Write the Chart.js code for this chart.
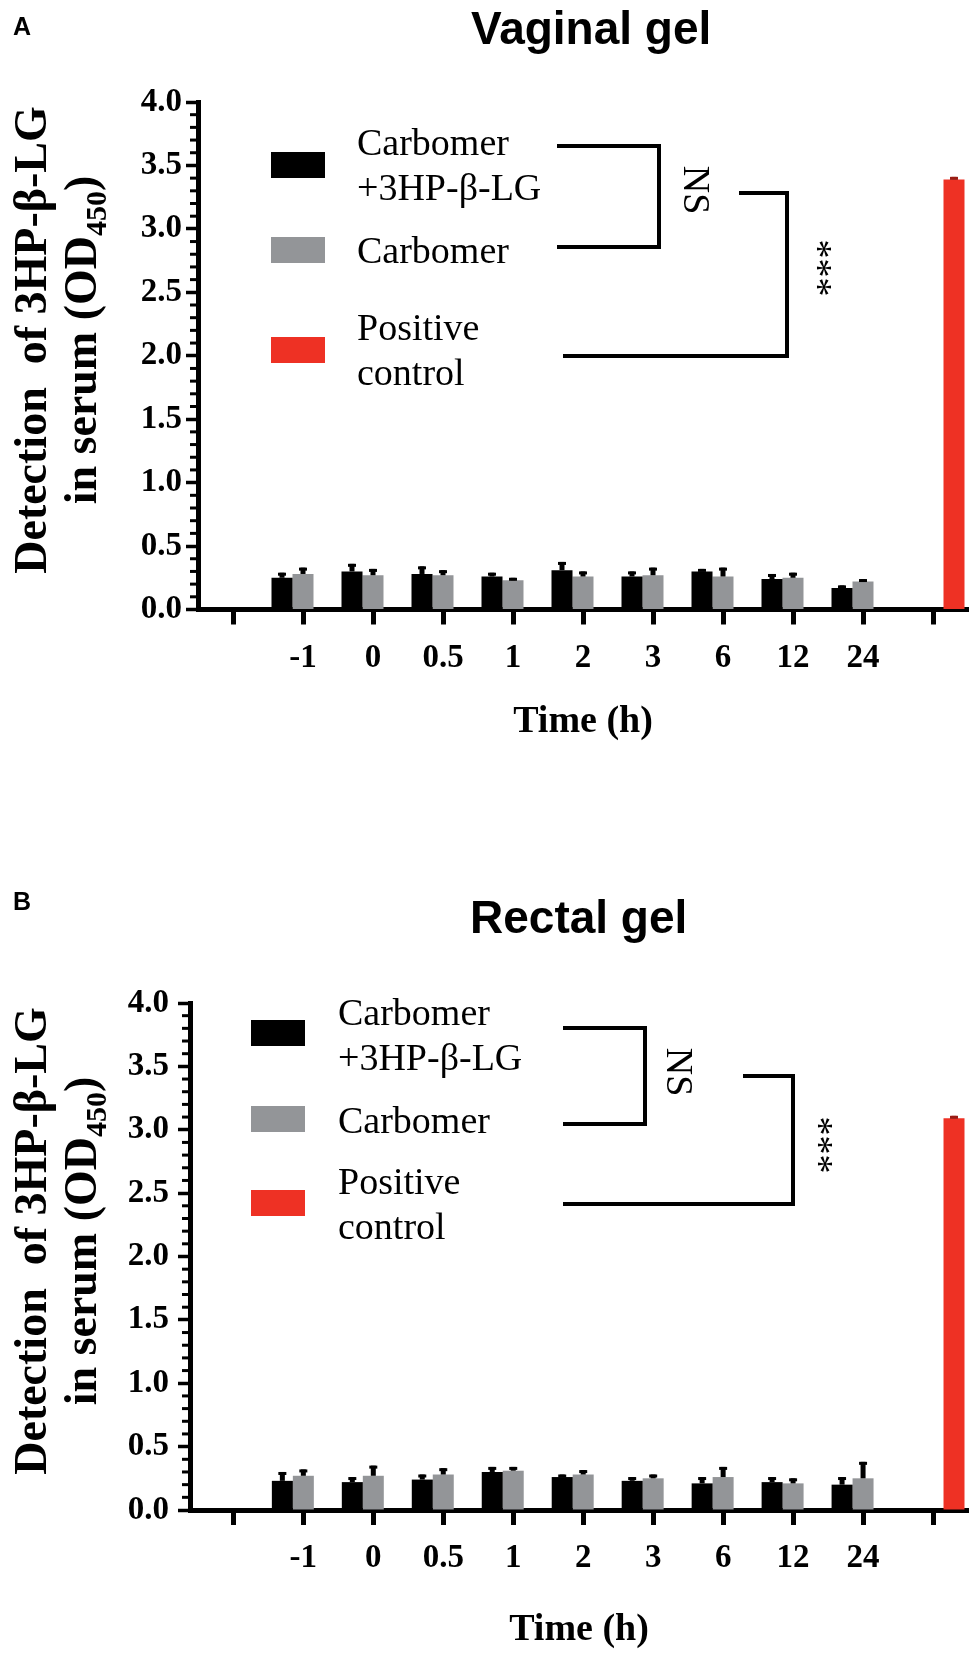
<!DOCTYPE html>
<html>
<head>
<meta charset="utf-8">
<script src="https://cdn.jsdelivr.net/npm/chart.js@4/dist/chart.umd.min.js"></script>
<style>
    body { margin: 0; background: #ffffff; }
    canvas { display: block; }
</style>
</head>
<body>
<canvas id="vaginalChart" width="975" height="870"></canvas>
<canvas id="rectalChart" width="975" height="789"></canvas>
<script>
// ==================== DATA ====================
const timeLabels = ['', '-1', '0', '0.5', '1', '2', '3', '6', '12', '24', ''];
const yTickValues = [0, 0.5, 1.0, 1.5, 2.0, 2.5, 3.0, 3.5, 4.0];
const groupNames = [['Carbomer', '+3HP-β-LG'], ['Carbomer'], ['Positive', 'control']];
const groupColors = ['#000000', '#939598', '#ee3124'];

// Vaginal gel (panel A)
const vaginalDrug       = [null, 0.25, 0.30, 0.28, 0.26, 0.31, 0.26, 0.30, 0.24, 0.17, null];
const vaginalDrugErr    = [null, 0.04, 0.06, 0.06, 0.03, 0.065, 0.04, 0.02, 0.04, 0.02, null];
const vaginalCarbomer   = [null, 0.28, 0.27, 0.27, 0.23, 0.26, 0.27, 0.26, 0.25, 0.22, null];
const vaginalCarbomerErr = [null, 0.05, 0.05, 0.04, 0.02, 0.04, 0.06, 0.07, 0.04, 0.02, null];
const vaginalControl    = [null, null, null, null, null, null, null, null, null, null, 3.39];
const vaginalControlErr = [null, null, null, null, null, null, null, null, null, null, 0.02];

// Rectal gel (panel B)
const rectalDrug        = [null, 0.23, 0.22, 0.24, 0.30, 0.26, 0.23, 0.21, 0.22, 0.20, null];
const rectalDrugErr     = [null, 0.07, 0.04, 0.04, 0.04, 0.02, 0.03, 0.05, 0.04, 0.06, null];
const rectalCarbomer    = [null, 0.27, 0.27, 0.28, 0.31, 0.28, 0.25, 0.26, 0.21, 0.25, null];
const rectalCarbomerErr = [null, 0.05, 0.08, 0.05, 0.03, 0.035, 0.03, 0.08, 0.04, 0.13, null];
const rectalControl     = [null, null, null, null, null, null, null, null, null, null, 3.09];
const rectalControlErr  = [null, null, null, null, null, null, null, null, null, null, 0.02];

const SERIF = '"Liberation Serif", "Times New Roman", serif';
const SANS = '"Liberation Sans", Arial, sans-serif';

// ==================== PLUGINS ====================
const minorTickPlugin = {
    id: 'minorTicks',
    afterDraw(chart) {
        const y = chart.scales.y;
        const ctx = chart.ctx;
        const x0 = chart.chartArea.left;
        ctx.save();
        ctx.strokeStyle = '#000';
        ctx.lineWidth = 3;
        for (let k = 1; k < 40; k++) {
            if (k % 5 === 0) continue;
            const py = y.getPixelForValue(k / 10);
            ctx.beginPath();
            ctx.moveTo(x0 - 8, py);
            ctx.lineTo(x0, py);
            ctx.stroke();
        }
        ctx.restore();
    }
};

const errorBarPlugin = {
    id: 'errorBars',
    afterDatasetsDraw(chart) {
        const ctx = chart.ctx;
        const yScale = chart.scales.y;
        chart.data.datasets.forEach((ds, di) => {
            const meta = chart.getDatasetMeta(di);
            meta.data.forEach((bar, i) => {
                const v = ds.data[i].y;
                const e = ds.errors[i];
                if (v == null || e == null) return;
                const top = yScale.getPixelForValue(v + e);
                ctx.fillStyle = ds.errorColor;
                ctx.fillRect(bar.x - 2.5, top, 5, bar.y - top);
                ctx.fillRect(bar.x - 4, top, 8, 3);
            });
        });
    }
};

// legend, brackets, titles and the y axis title
const annotationPlugin = {
    id: 'annotations',
    afterDraw(chart) {
        const a = chart.options.plugins.annotations;
        const ctx = chart.ctx;
        ctx.save();
        ctx.fillStyle = '#000';

        // panel letter
        ctx.font = 'bold 25px ' + SANS;
        ctx.textAlign = 'left';
        ctx.textBaseline = 'alphabetic';
        ctx.fillText(a.letter, 13, a.letterY);

        // title
        ctx.font = 'bold 46px ' + SANS;
        ctx.fillText(a.title, a.titleX, a.titleY);

        // legend
        a.legend.forEach((item, i) => {
            ctx.fillStyle = groupColors[i];
            ctx.fillRect(a.legendX, item.boxY, 54, 26);
            ctx.fillStyle = '#000';
            ctx.font = '38px ' + SERIF;
            groupNames[i].forEach((line, j) => {
                ctx.fillText(line, a.legendTextX, item.textY + j * 45);
            });
        });

        // significance brackets
        ctx.strokeStyle = '#000';
        ctx.lineWidth = 4;
        ctx.lineJoin = 'miter';
        a.brackets.forEach(pts => {
            ctx.beginPath();
            ctx.moveTo(pts[0][0], pts[0][1]);
            for (let k = 1; k < pts.length; k++) ctx.lineTo(pts[k][0], pts[k][1]);
            ctx.stroke();
        });
        ctx.font = '38px ' + SERIF;
        ctx.textAlign = 'center';
        ctx.textBaseline = 'middle';
        a.marks.forEach(m => {
            ctx.save();
            ctx.translate(m.x, m.y);
            ctx.rotate(Math.PI / 2);
            ctx.fillText(m.text, 0, 0);
            ctx.restore();
        });

        // y axis title, two lines with a subscript
        ctx.textBaseline = 'alphabetic';
        ctx.textAlign = 'left';
        const big = 'bold 46px ' + SERIF;
        const small = 'bold 30px ' + SERIF;
        ctx.save();
        ctx.translate(a.yTitleX1, a.yTitleY);
        ctx.rotate(-Math.PI / 2);
        ctx.font = big;
        const l1 = 'Detection  of 3HP-β-LG';
        ctx.fillText(l1, -ctx.measureText(l1).width / 2, 0);
        ctx.restore();

        ctx.save();
        ctx.translate(a.yTitleX2, a.yTitleY);
        ctx.rotate(-Math.PI / 2);
        ctx.font = big;
        const p1 = 'in serum (OD', p3 = ')';
        const w1 = ctx.measureText(p1).width;
        const w3 = ctx.measureText(p3).width;
        ctx.font = small;
        const w2 = ctx.measureText('450').width;
        let x = -(w1 + w2 + w3) / 2;
        ctx.font = big;
        ctx.fillText(p1, x, 0);
        ctx.font = small;
        ctx.fillText('450', x + w1, 10);
        ctx.font = big;
        ctx.fillText(p3, x + w1 + w2, 0);
        ctx.restore();

        ctx.restore();
    }
};

// ==================== BUILD CHART ====================
function buildChart(canvasId, drug, drugErr, carb, carbErr, ctrl, ctrlErr, layout, annotations) {
    const toPoints = arr => arr.map((v, i) => ({ x: i, y: v }));
    const ctx = document.getElementById(canvasId).getContext('2d');
    return new Chart(ctx, {
        type: 'bar',
        data: {
            datasets: [
                { label: groupNames[0].join(' '), data: toPoints(drug), errors: drugErr, errorColor: '#000', backgroundColor: groupColors[0] },
                { label: groupNames[1].join(' '), data: toPoints(carb), errors: carbErr, errorColor: '#000', backgroundColor: groupColors[1] },
                { label: groupNames[2].join(' '), data: toPoints(ctrl), errors: ctrlErr, errorColor: '#9a1c14', backgroundColor: groupColors[2] }
            ]
        },
        options: {
            responsive: false,
            animation: false,
            categoryPercentage: 0.9,
            barPercentage: 1.0,
            layout: { padding: { left: 0, top: layout.top, right: 975 - layout.right, bottom: 0 } },
            scales: {
                x: {
                    type: 'linear',
                    min: layout.xMin,
                    max: timeLabels.length - 0.5,
                    offset: false,
                    afterBuildTicks: scale => { scale.ticks = timeLabels.map((l, i) => ({ value: i })); },
                    afterFit: scale => { scale.height = layout.height - layout.bottom; },
                    grid: { offset: false, drawOnChartArea: false, tickLength: 15, tickWidth: 5, tickColor: '#000' },
                    border: { color: '#000', width: 5 },
                    ticks: {
                        autoSkip: false,
                        maxRotation: 0,
                        padding: 14,
                        color: '#000',
                        font: { family: SERIF, size: 33, weight: 'bold' },
                        callback: value => timeLabels[value]
                    },
                    title: {
                        display: true,
                        text: 'Time (h)',
                        color: '#000',
                        font: { family: SERIF, size: 38, weight: 'bold' },
                        padding: { top: 0, bottom: layout.xTitlePad }
                    }
                },
                y: {
                    min: 0,
                    max: 4,
                    afterBuildTicks: scale => { scale.ticks = yTickValues.map(v => ({ value: v })); },
                    afterFit: scale => { scale.width = layout.left; },
                    grid: { drawOnChartArea: false, tickLength: 12, tickWidth: 3.5, tickColor: '#000' },
                    border: { color: '#000', width: 5 },
                    ticks: {
                        padding: layout.yTickPad,
                        color: '#000',
                        font: { family: SERIF, size: 33, weight: 'bold' },
                        callback: value => value.toFixed(1)
                    }
                }
            },
            plugins: {
                legend: { display: false },
                tooltip: { enabled: false },
                annotations: annotations
            }
        },
        plugins: [minorTickPlugin, errorBarPlugin, annotationPlugin]
    });
}

buildChart('vaginalChart', vaginalDrug, vaginalDrugErr, vaginalCarbomer, vaginalCarbomerErr, vaginalControl, vaginalControlErr,
    { left: 198, right: 968, top: 102, bottom: 609.5, height: 870, xMin: -0.5, yTickPad: 4, xTitlePad: 125 },
    {
        letter: 'A', letterY: 35,
        title: 'Vaginal gel', titleX: 471, titleY: 44,
        legendX: 271, legendTextX: 357,
        legend: [{ boxY: 152, textY: 155 }, { boxY: 237, textY: 263 }, { boxY: 337, textY: 340 }],
        brackets: [
            [[557, 146], [659, 146], [659, 247], [557, 247]],
            [[739, 193], [787, 193], [787, 356], [563, 356]]
        ],
        marks: [{ text: 'NS', x: 694, y: 190 }, { text: '***', x: 816, y: 268 }],
        yTitleX1: 46, yTitleX2: 96, yTitleY: 340
    });

buildChart('rectalChart', rectalDrug, rectalDrugErr, rectalCarbomer, rectalCarbomerErr, rectalControl, rectalControlErr,
    { left: 190, right: 968, top: 133, bottom: 640, height: 789, xMin: -0.62, yTickPad: 9, xTitlePad: 6 },
    {
        letter: 'B', letterY: 40,
        title: 'Rectal gel', titleX: 470, titleY: 63,
        legendX: 251, legendTextX: 338,
        legend: [{ boxY: 150, textY: 155 }, { boxY: 236, textY: 263 }, { boxY: 320, textY: 324 }],
        brackets: [
            [[563, 158], [645, 158], [645, 254], [563, 254]],
            [[743, 206], [793, 206], [793, 334], [563, 334]]
        ],
        marks: [{ text: 'NS', x: 677, y: 202 }, { text: '***', x: 817, y: 275 }],
        yTitleX1: 46, yTitleX2: 96, yTitleY: 371
    });
</script>
</body>
</html>
